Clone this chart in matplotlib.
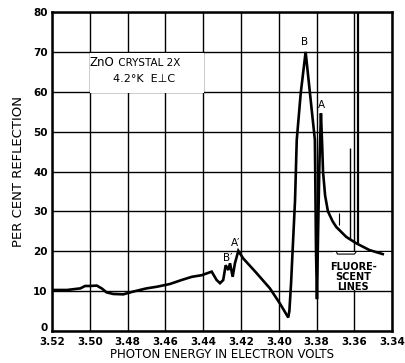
import numpy as np
import matplotlib
matplotlib.use("Agg")
import matplotlib.pyplot as plt
import matplotlib.transforms as mtransforms

# ===== data =====
energy = [3.520, 3.512, 3.505, 3.5025, 3.500, 3.4963, 3.4937, 3.4911, 3.4876,
          3.4823, 3.477, 3.470, 3.4646, 3.4576, 3.4514, 3.446, 3.4408, 3.4355,
          3.4329, 3.4311, 3.4294, 3.4281, 3.4267, 3.4258, 3.4244, 3.4232,
          3.4214, 3.4188, 3.4117, 3.4047, 3.3994, 3.3950, 3.3944, 3.3935,
          3.3927, 3.3914, 3.3905, 3.3884, 3.3858, 3.3835, 3.3809, 3.3803,
          3.3798, 3.3792, 3.3785, 3.3777, 3.3770, 3.3766, 3.3755, 3.3740,
          3.3715, 3.3696, 3.3643, 3.3590, 3.3520, 3.3450]
reflection = [10.3, 10.3, 10.7, 11.3, 11.3, 11.4, 10.7, 9.7, 9.3,
              9.2, 9.9, 10.7, 11.1, 11.8, 12.8, 13.6, 14.0, 14.9,
              12.8, 12.0, 12.8, 16.5, 15.3, 17.0, 13.6, 17.0,
              20.1, 18.2, 14.5, 10.7, 6.9, 3.4, 5.0, 12.0,
              20.0, 32.8, 47.9, 59.6, 70.0, 59.6, 47.9, 20.0,
              8.0, 25.0, 42.0, 54.6, 46.0, 40.0, 34.0, 30.0,
              27.5, 26.1, 23.6, 22.0, 20.3, 19.3]

fluor_energy = [3.3625, 3.3580]
fluor_top = [46, 80]

xticks = [3.52, 3.50, 3.48, 3.46, 3.44, 3.42, 3.40, 3.38, 3.36, 3.34]
xlabels = ["3.52", "3.50", "3.48", "3.46", "3.44", "3.42", "3.40", "3.38", "3.36", "3.34"]
yticks = [0, 10, 20, 30, 40, 50, 60, 70, 80]

# ===== figure =====
fig = plt.figure(figsize=(4.06, 3.63), dpi=100)
ax = fig.add_axes([0.128, 0.088, 0.838, 0.879])

ax.set_xlim(3.52, 3.34)
ax.set_ylim(0, 80)
ax.set_xticks(xticks)
ax.set_xticklabels(xlabels)
ax.set_yticks(yticks)
ax.tick_params(length=0, labelsize=7.5)
ax.tick_params(axis="x", pad=4)
ax.tick_params(axis="y", pad=3)
for lab in ax.get_xticklabels() + ax.get_yticklabels():
    lab.set_fontweight("bold")
# nudge the "0" up a bit so it clears the 3.52
zero = ax.get_yticklabels()[0]
zero.set_transform(zero.get_transform() + mtransforms.ScaledTranslation(0, 3 / 72, fig.dpi_scale_trans))

ax.grid(True, color="black", linewidth=1.0)
ax.set_axisbelow(True)
for s in ax.spines.values():
    s.set_linewidth(1.8)

# white patches where the labels sit over the grid
ax.axvspan(3.4999, 3.4395, ymin=59.8 / 80, ymax=69.8 / 80, color="white", zorder=1.5, lw=0)
ax.axvspan(3.3715, 3.3405, ymin=10.3 / 80, ymax=19.8 / 80, color="white", zorder=1.5, lw=0)

ax.text(3.4872, 67.3, "ZnO", fontsize=8.5, ha="right", va="center", zorder=3)
ax.text(3.4868, 67.3, " CRYSTAL 2X", fontsize=7.5, ha="left", va="center", zorder=3)
ax.text(3.4715, 63.3, "4.2°K  E\u22a5C", fontsize=8, ha="center", va="center", zorder=3)

# reflection curve
ax.plot(energy, reflection, color="black", linewidth=1.9, zorder=4, solid_joinstyle="miter")

# fluorescent lines
base = np.interp(fluor_energy, energy[::-1], reflection[::-1])
ax.vlines(fluor_energy[0], base[0], fluor_top[0], color="black", linewidth=1.0, zorder=4)
ax.vlines(fluor_energy[1], base[1], fluor_top[1], color="black", linewidth=1.6, zorder=4)
ax.vlines(3.3680, 26.5, 29.5, color="black", linewidth=0.8, zorder=4)

# bracket
ax.plot([3.3695, 3.3690, 3.3600, 3.3590], [19.9, 19.3, 19.3, 19.9], color="black", lw=0.8, zorder=4)

ax.text(3.3607, 17.4, "FLUORE-\nSCENT\nLINES", fontsize=7, ha="center", va="top",
        linespacing=1.05, fontweight="bold", zorder=3)

# peak labels
ax.text(3.3862, 71.2, "B", fontsize=7.5, ha="center", va="bottom")
ax.text(3.3775, 55.5, "A", fontsize=7.5, ha="center", va="bottom")
ax.text(3.4230, 20.8, "A\u2032", fontsize=7.5, ha="center", va="bottom")
ax.text(3.4268, 17.0, "B\u2032", fontsize=7.5, ha="center", va="bottom")

ax.set_xlabel("PHOTON ENERGY IN ELECTRON VOLTS", fontsize=8.5, labelpad=1)
ax.set_ylabel("PER CENT REFLECTION", fontsize=9.5, labelpad=6)

fig.savefig("out.png", dpi=100)
